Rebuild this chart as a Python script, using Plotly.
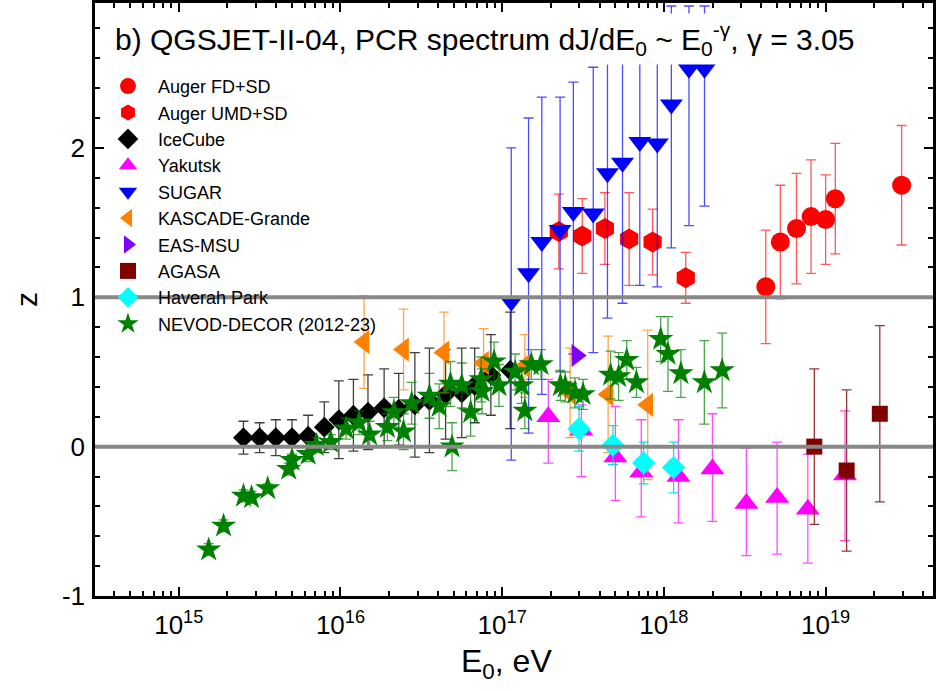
import plotly.graph_objects as go

# ---- data: log10(E0/eV) and z with uncertainties ----
fd_logE = [18.63, 18.72, 18.82, 18.91, 19.00, 19.06, 19.47]
fd_z = [1.07, 1.37, 1.46, 1.54, 1.52, 1.66, 1.75]
fd_err = [0.38, 0.38, 0.37, 0.38, 0.30, 0.37, 0.40]

umd_logE = [17.35, 17.495, 17.635, 17.785, 17.93, 18.135]
umd_z = [1.44, 1.41, 1.46, 1.39, 1.37, 1.13]
umd_err = [0.25, 0.25, 0.24, 0.31, 0.22, 0.17]

ice_logE = [15.40, 15.50, 15.60, 15.70, 15.80, 15.90, 15.99, 16.08, 16.17,
            16.27, 16.36, 16.46, 16.55, 16.65, 16.75, 16.83, 16.93, 17.05]
ice_z = [0.06, 0.06, 0.06, 0.06, 0.07, 0.13, 0.18, 0.21, 0.23,
         0.26, 0.25, 0.28, 0.31, 0.35, 0.36, 0.41, 0.48, 0.51]
ice_err = [0.11, 0.10, 0.12, 0.12, 0.14, 0.17, 0.26, 0.24, 0.25,
           0.26, 0.24, 0.35, 0.35, 0.30, 0.30, 0.25, 0.27, 0.39]

yak_logE = [17.285, 17.49, 17.70, 17.86, 18.09, 18.30, 18.51, 18.70, 18.89, 19.12]
yak_z = [0.20, 0.11, -0.07, -0.17, -0.20, -0.15, -0.38, -0.34, -0.42, -0.19]
yak_up = [0.25, 0.17, 0.34, 0.35, 0.38, 0.37, 0.37, 0.37, 0.37, 0.43]
yak_dn = [0.31, 0.31, 0.29, 0.30, 0.31, 0.35, 0.35, 0.38, 0.36, 0.44]

sug_logE = [17.056, 17.163, 17.245, 17.358, 17.44, 17.563, 17.651,
            17.744, 17.851, 17.959, 18.046, 18.155, 18.251]
sug_z = [0.97, 1.16, 1.37, 1.45, 1.57, 1.56, 1.83, 1.90, 2.04, 2.03, 2.29, 2.53, 2.53]
sug_up = [1.03, 1.04, 0.97, 0.89, 0.87, 0.98, 0.92, 0.86, 0.76, 0.76, 0.66, 0.42, 0.42]
sug_dn = [1.06, 1.07, 1.02, 0.95, 0.95, 0.93, 0.97, 0.94, 0.96, 0.96, 0.96, 1.05, 0.92]

kg_logE = [16.146, 16.39, 16.64, 16.885, 17.14, 17.42, 17.655, 17.90]
kg_z = [0.70, 0.65, 0.63, 0.56, 0.54, 0.36, 0.35, 0.28]
kg_err = [0.31, 0.27, 0.27, 0.23, 0.21, 0.30, 0.39, 0.50]

msu_logE = [17.46]
msu_z = [0.61]

ag_logE = [18.93, 19.13, 19.335]
ag_z = [0.00, -0.16, 0.22]
ag_err = [0.52, 0.54, 0.59]

hp_logE = [17.475, 17.685, 17.875, 18.06]
hp_z = [0.12, 0.01, -0.11, -0.14]
hp_err = [0.15, 0.13, 0.14, 0.17]

nd_logE = [15.185, 15.277, 15.40, 15.45, 15.55, 15.68, 15.70, 15.80, 15.85, 15.94,
           16.035, 16.115, 16.18, 16.29, 16.33, 16.39, 16.44, 16.55, 16.61, 16.68,
           16.69, 16.75, 16.805, 16.87, 16.875, 16.95, 16.98, 17.08, 17.12, 17.14,
           17.18, 17.24, 17.36, 17.39, 17.45, 17.50, 17.67, 17.72, 17.77, 17.83,
           17.98, 18.025, 18.105, 18.25, 18.36]
nd_z = [-0.69, -0.53, -0.33, -0.34, -0.28, -0.15, -0.09, -0.05, 0.01, 0.03,
        0.12, 0.16, 0.08, 0.13, 0.23, 0.10, 0.29, 0.34, 0.27, 0.42,
        0.00, 0.41, 0.23, 0.45, 0.37, 0.57, 0.41, 0.50, 0.41, 0.24,
        0.55, 0.55, 0.41, 0.40, 0.36, 0.35, 0.48, 0.47, 0.58, 0.43,
        0.72, 0.62, 0.49, 0.43, 0.51]
nd_err = [0.04, 0.04, 0.04, 0.04, 0.03, 0.04, 0.04, 0.05, 0.05, 0.05,
          0.07, 0.08, 0.09, 0.09, 0.10, 0.12, 0.14, 0.15, 0.15, 0.15,
          0.16, 0.15, 0.16, 0.15, 0.15, 0.13, 0.14, 0.12, 0.12, 0.12,
          0.10, 0.10, 0.10, 0.10, 0.10, 0.10, 0.16, 0.16, 0.13, 0.10,
          0.15, 0.25, 0.16, 0.28, 0.25]

x_major = [15, 16, 17, 18, 19]
y_major = [-1, 0, 1, 2]

FONT = "Liberation Sans, Arial, sans-serif"

# plot-area geometry in pixels (used to place layout items)
W, H = 936, 691
L, R, T, B = 95, 0, 2, 95


def px_x(px):
    return (px - L) / (W - L - R)


def px_y(py):
    return (H - B - py) / (H - T - B)


def E(logs):
    return [10.0 ** v for v in logs]


def series(name, lx, z, color, symbol, size, up, dn=None, ecolor=None):
    err = None
    if up is not None:
        err = dict(type="data", array=up, arrayminus=dn if dn is not None else up,
                   symmetric=dn is None, color=ecolor or color,
                   thickness=1.3, width=5)
    return go.Scatter(
        x=E(lx), y=z, mode="markers", name=name,
        marker=dict(color=color, symbol=symbol, size=size, line=dict(width=0)),
        error_y=err,
    )


fig = go.Figure()
fig.add_trace(series("Auger FD+SD", fd_logE, fd_z, "#FF0000", "circle", 19,
                     fd_err, ecolor="rgba(255,0,0,0.65)"))
fig.add_trace(series("Auger UMD+SD", umd_logE, umd_z, "#FF0000", "hexagon", 21,
                     umd_err, ecolor="rgba(255,0,0,0.65)"))
fig.add_trace(series("IceCube", ice_logE, ice_z, "#000000", "diamond", 16,
                     ice_err, ecolor="rgba(0,0,0,0.75)"))
fig.add_trace(series("Yakutsk", yak_logE, yak_z, "#FF00FF", "triangle-up", 21,
                     yak_up, yak_dn, ecolor="rgba(255,0,255,0.7)"))
fig.add_trace(series("SUGAR", sug_logE, sug_z, "#0000FF", "triangle-down", 20,
                     sug_up, sug_dn, ecolor="rgba(0,0,255,0.7)"))
fig.add_trace(series("KASCADE-Grande", kg_logE, kg_z, "#FF8000", "triangle-left", 21,
                     kg_err, ecolor="rgba(255,128,0,0.7)"))
fig.add_trace(series("EAS-MSU", msu_logE, msu_z, "#8000FF", "triangle-right", 20, None))
fig.add_trace(series("AGASA", ag_logE, ag_z, "#800000", "square", 16,
                     ag_err, ecolor="rgba(128,0,0,0.8)"))
fig.add_trace(series("Haverah Park", hp_logE, hp_z, "#00FFFF", "diamond", 18,
                     hp_err, ecolor="rgba(0,220,220,0.9)"))
fig.add_trace(series("NEVOD-DECOR (2012-23)", nd_logE, nd_z, "#008000", "star", 19,
                     nd_err, ecolor="rgba(0,128,0,0.7)"))

# reference levels z = 0 and z = 1
for lvl in (0, 1):
    fig.add_shape(type="line", xref="paper", x0=0, x1=1, yref="y", y0=lvl, y1=lvl,
                  line=dict(color="#888888", width=4), layer="above")

minor_x = [k * 10.0 ** n for n in range(14, 20) for k in range(2, 10)]

axis_common = dict(
    showline=True, linecolor="black", linewidth=2.5, mirror="allticks",
    ticks="inside", ticklen=9, tickwidth=2, tickcolor="black",
    showgrid=False, zeroline=False,
    tickfont=dict(family=FONT, size=26, color="black"),
)

fig.update_layout(
    width=W, height=H,
    margin=dict(l=L, r=R, t=T, b=B, pad=0),
    paper_bgcolor="white", plot_bgcolor="white",
    font=dict(family=FONT, color="black"),
    xaxis=dict(
        type="log", range=[14.482, 19.664],
        tickvals=[10.0 ** p for p in x_major],
        ticktext=["10<sup>%d</sup>" % p for p in x_major],
        ticklabelstandoff=4,
        minor=dict(tickvals=minor_x, ticks="inside", ticklen=5, tickwidth=1.5,
                   tickcolor="black", showgrid=False),
        **axis_common,
    ),
    yaxis=dict(
        range=[-1.0, 2.97],
        tickvals=y_major, ticktext=[str(v) for v in y_major],
        ticklabelstandoff=2,
        minor=dict(dtick=0.2, tick0=0, ticks="inside", ticklen=5, tickwidth=1.5,
                   tickcolor="black", showgrid=False),
        title=dict(text="z", font=dict(family=FONT, size=30), standoff=16),
        **axis_common,
    ),
    legend=dict(
        x=px_x(98), y=px_y(67), xanchor="left", yanchor="top",
        bgcolor="rgba(0,0,0,0)", borderwidth=0, itemwidth=50,
        font=dict(family=FONT, size=18, color="black"),
        tracegroupgap=0,
    ),
    showlegend=True,
)

# x-axis title
fig.add_annotation(
    xref="paper", yref="paper", x=px_x(508), y=px_y(664),
    xanchor="center", yanchor="middle", showarrow=False,
    text="E<sub>0</sub>, eV",
    font=dict(family=FONT, size=32, color="black"),
)

# panel title on a white box
fig.add_annotation(
    xref="paper", yref="paper", x=px_x(486), y=px_y(38),
    xanchor="center", yanchor="middle", showarrow=False,
    text="b) QGSJET-II-04, PCR spectrum dJ/dE<sub>0</sub> ~ E<sub>0</sub><sup>-γ</sup>, γ = 3.05",
    font=dict(family=FONT, size=30, color="black"),
    bgcolor="white", borderpad=4,
)

fig.write_html("out.html")
